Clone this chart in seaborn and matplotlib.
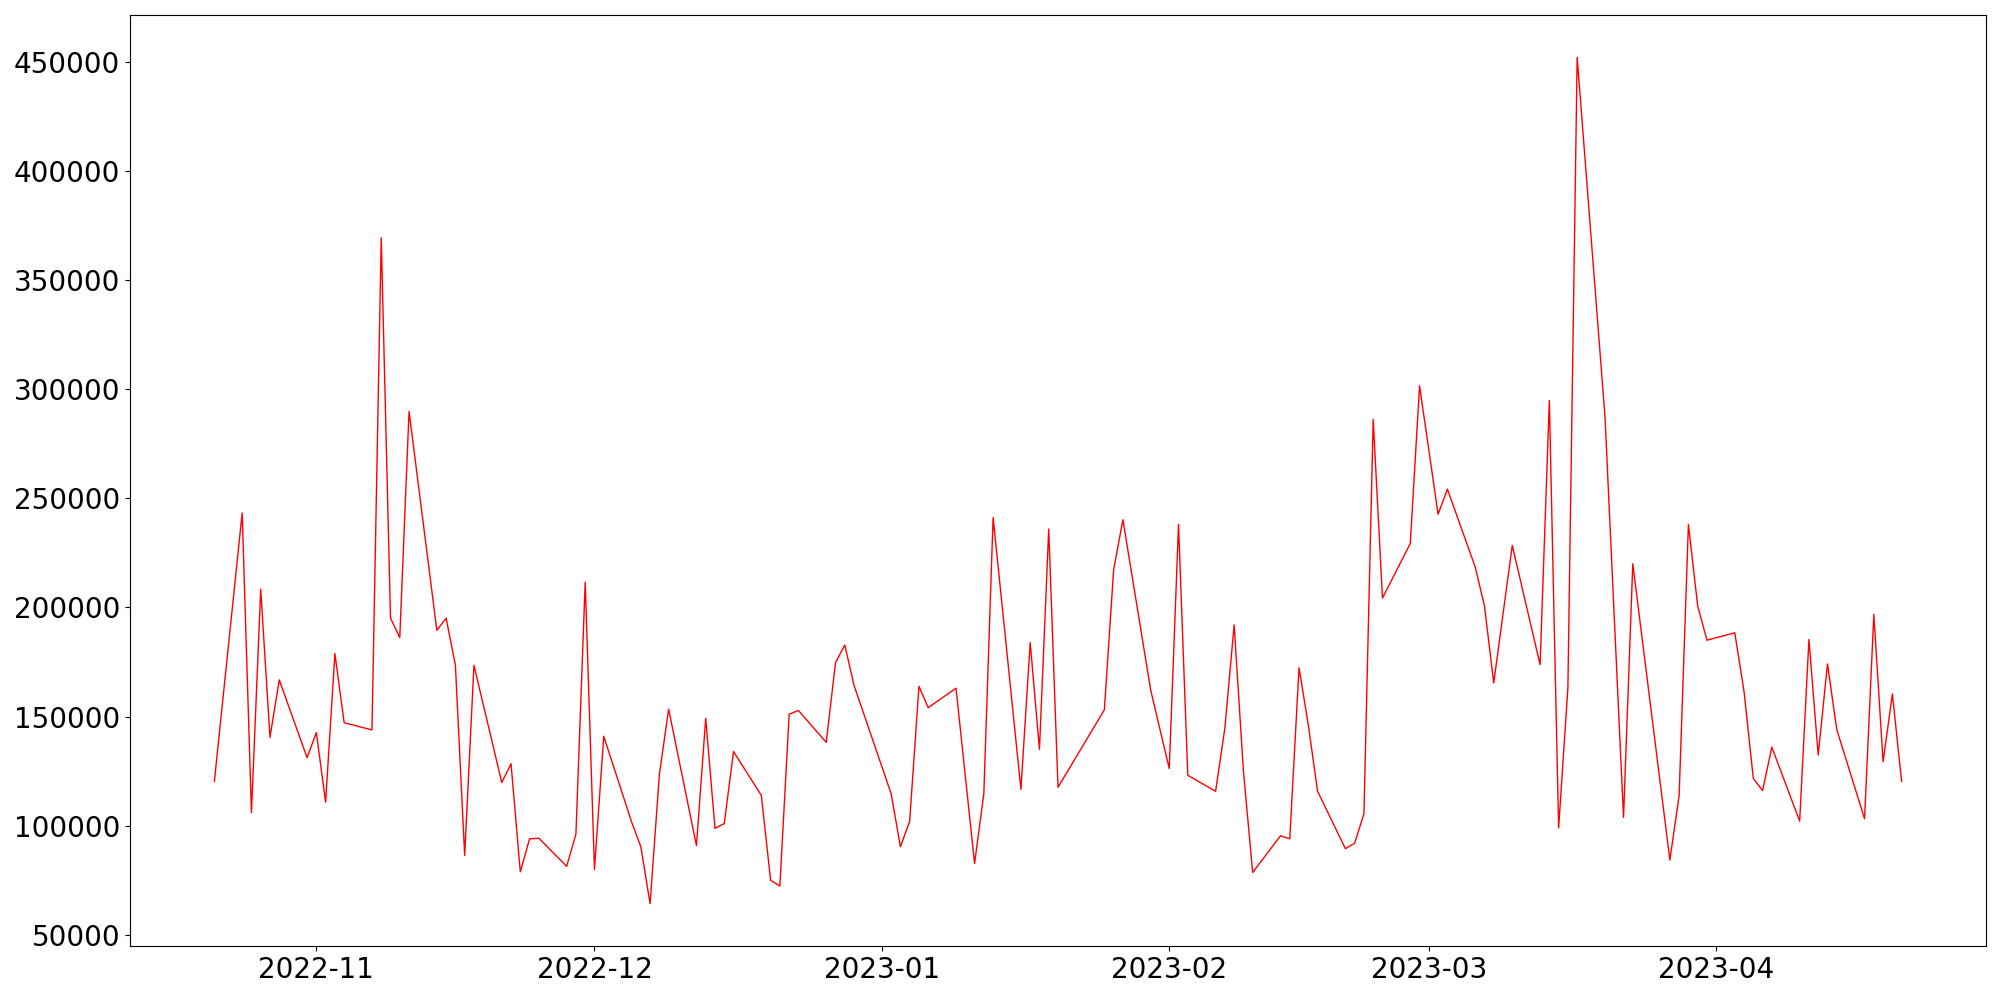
import pandas as pd
import matplotlib
matplotlib.use('Agg')
import matplotlib.pyplot as plt
import seaborn as sns

# 日期
dates = [
    '2022-10-21', '2022-10-24', '2022-10-25', '2022-10-26', '2022-10-27', '2022-10-28',
    '2022-10-31', '2022-11-01', '2022-11-02', '2022-11-03', '2022-11-04',
    '2022-11-07', '2022-11-08', '2022-11-09', '2022-11-10', '2022-11-11',
    '2022-11-14', '2022-11-15', '2022-11-16', '2022-11-17', '2022-11-18',
    '2022-11-21', '2022-11-22', '2022-11-23', '2022-11-24', '2022-11-25',
    '2022-11-28', '2022-11-29', '2022-11-30', '2022-12-01', '2022-12-02',
    '2022-12-05', '2022-12-06', '2022-12-07', '2022-12-08', '2022-12-09',
    '2022-12-12', '2022-12-13', '2022-12-14', '2022-12-15', '2022-12-16',
    '2022-12-19', '2022-12-20', '2022-12-21', '2022-12-22', '2022-12-23',
    '2022-12-26', '2022-12-27', '2022-12-28', '2022-12-29',
    '2023-01-02', '2023-01-03', '2023-01-04', '2023-01-05', '2023-01-06',
    '2023-01-09', '2023-01-11', '2023-01-12', '2023-01-13',
    '2023-01-16', '2023-01-17', '2023-01-18', '2023-01-19', '2023-01-20',
    '2023-01-25', '2023-01-26', '2023-01-27', '2023-01-30',
    '2023-02-01', '2023-02-02', '2023-02-03',
    '2023-02-06', '2023-02-07', '2023-02-08', '2023-02-09', '2023-02-10',
    '2023-02-13', '2023-02-14', '2023-02-15', '2023-02-16', '2023-02-17',
    '2023-02-20', '2023-02-21', '2023-02-22', '2023-02-23', '2023-02-24',
    '2023-02-27', '2023-02-28', '2023-03-02', '2023-03-03',
    '2023-03-06', '2023-03-07', '2023-03-08', '2023-03-10',
    '2023-03-13', '2023-03-14', '2023-03-15', '2023-03-16', '2023-03-17',
    '2023-03-20', '2023-03-22', '2023-03-23',
    '2023-03-27', '2023-03-28', '2023-03-29', '2023-03-30', '2023-03-31',
    '2023-04-03', '2023-04-04', '2023-04-05', '2023-04-06', '2023-04-07',
    '2023-04-10', '2023-04-11', '2023-04-12', '2023-04-13', '2023-04-14',
    '2023-04-17', '2023-04-18', '2023-04-19', '2023-04-20', '2023-04-21',
]

# 数值
values = [
    120300, 243300, 106000, 208300, 140500, 166800,
    131200, 142700, 110800, 178900, 147200,
    143900, 369300, 195100, 186200, 289800,
    189500, 195100, 173500, 86400, 173500,
    119800, 128400, 78900, 94000, 94300,
    81400, 96200, 211600, 80000, 141000,
    101800, 90400, 64300, 123400, 153400,
    90900, 149200, 98800, 101000, 134000,
    113900, 75000, 72400, 151100, 152800,
    138200, 174700, 182800, 164300,
    114700, 90400, 102000, 163900, 154100,
    163000, 82700, 114700, 241200,
    116700, 183900, 135000, 235900, 117600,
    153100, 217200, 240200, 162100,
    126200, 238000, 123100,
    115800, 144700, 192000, 125100, 78600,
    95400, 94000, 172400, 146100, 115800,
    89500, 92000, 105500, 286100, 204300,
    229300, 301500, 242700, 254200,
    218600, 200700, 165400, 228400,
    173800, 294800, 99000, 163200, 452000,
    287500, 103800, 220000,
    84300, 113900, 238000, 200700, 185000,
    188400, 161500, 121700, 116100, 136000,
    102100, 185300, 132400, 174100, 144100,
    103200, 196800, 129300, 160400, 120300,
]

data = pd.DataFrame({'date': pd.to_datetime(dates), 'value': values})

fig, ax = plt.subplots(figsize=(20, 10), dpi=100)
sns.lineplot(data=data, x='date', y='value', color='red', linewidth=1, ax=ax)
ax.set_xlabel('')
ax.set_ylabel('')
ax.tick_params(labelsize=20)

plt.subplots_adjust(left=0.065, right=0.993, bottom=0.054, top=0.985)
plt.savefig('out.png')
